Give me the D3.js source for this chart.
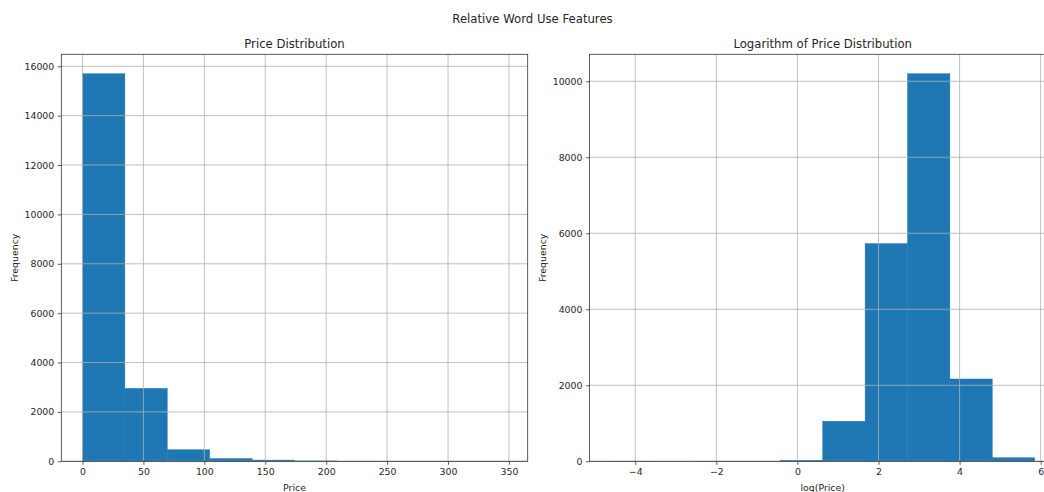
<!DOCTYPE html>
<html>
<head>
<meta charset="utf-8">
<script src="https://cdn.jsdelivr.net/npm/d3@7"></script>
<style>
  html, body { margin: 0; padding: 0; background: #fff; }
  svg { display: block; font-family: "DejaVu Sans", sans-serif; }
</style>
</head>
<body>
<svg id="chart" width="1044" height="492"></svg>
<script>
// Histogram of raw prices: 10 equal-width bins between the min and max price
const priceRange = [0, 348];
const priceCounts = [15700, 2955, 470, 115, 50, 15, 5, 2, 1, 1];
const priceTicks = [0, 50, 100, 150, 200, 250, 300, 350];
const priceYTicks = [0, 2000, 4000, 6000, 8000, 10000, 12000, 14000, 16000];

// Histogram of log(price): 10 equal-width bins between log(min) and log(max)
const logPriceRange = [-4.605, 5.852];
const logPriceCounts = [1, 0, 1, 3, 28, 1055, 5730, 10200, 2166, 95];
const logPriceTicks = [-4, -2, 0, 2, 4, 6];
const logPriceYTicks = [0, 2000, 4000, 6000, 8000, 10000];

const svg = d3.select("#chart");
const textColor = "#262626";
const barColor = "#1f77b4";
const gridColor = "#b0b0b0";

svg.append("text")
  .attr("x", 532.5).attr("y", 23)
  .attr("text-anchor", "middle")
  .attr("font-size", 11.7)
  .attr("fill", textColor)
  .text("Relative Word Use Features");

function binsFrom(range, counts) {
  const w = (range[1] - range[0]) / counts.length;
  return counts.map((c, i) => ({ x0: range[0] + i * w, x1: range[0] + (i + 1) * w, count: c }));
}

function drawHist(opt) {
  const { left, right, top, bottom } = opt.box;
  const bins = binsFrom(opt.range, opt.counts);
  const span = opt.range[1] - opt.range[0];
  const x = d3.scaleLinear()
    .domain([opt.range[0] - 0.05 * span, opt.range[1] + 0.05 * span])
    .range([left, right]);
  const y = d3.scaleLinear()
    .domain([0, d3.max(opt.counts) * 1.05])
    .range([bottom, top]);

  const g = svg.append("g");

  // bars (a thin same-colour stroke hides seams between neighbouring bins)
  g.append("g").selectAll("rect").data(bins.filter(d => d.count > 0)).join("rect")
    .attr("x", d => x(d.x0))
    .attr("width", d => x(d.x1) - x(d.x0))
    .attr("y", d => y(d.count))
    .attr("height", d => y(0) - y(d.count))
    .attr("fill", barColor)
    .attr("stroke", barColor)
    .attr("stroke-width", 0.4);

  // grid lines sit on top of the bars
  const grid = g.append("g").attr("stroke", gridColor).attr("stroke-width", 0.8);
  grid.selectAll("line.vx").data(opt.xTicks).join("line")
    .attr("x1", d => x(d)).attr("x2", d => x(d))
    .attr("y1", top).attr("y2", bottom);
  grid.selectAll("line.hy").data(opt.yTicks).join("line")
    .attr("y1", d => y(d)).attr("y2", d => y(d))
    .attr("x1", left).attr("x2", right);

  // frame
  g.append("rect")
    .attr("x", left).attr("y", top)
    .attr("width", right - left).attr("height", bottom - top)
    .attr("fill", "none").attr("stroke", "#333").attr("stroke-width", 0.8);

  const fmt = d => (d < 0 ? "\u2212" + Math.abs(d) : String(d));

  const xAxis = g.append("g").attr("transform", `translate(0,${bottom})`)
    .call(d3.axisBottom(x).tickValues(opt.xTicks).tickFormat(fmt).tickSize(3.5).tickPadding(3.5));
  const yAxis = g.append("g").attr("transform", `translate(${left},0)`)
    .call(d3.axisLeft(y).tickValues(opt.yTicks).tickFormat(d3.format("d")).tickSize(3.5).tickPadding(3.5));
  [xAxis, yAxis].forEach(a => {
    a.select(".domain").remove();
    a.selectAll("line").attr("stroke", "#333").attr("stroke-width", 0.8);
    a.selectAll("text").attr("fill", textColor).attr("font-size", 9.4)
      .attr("font-family", "DejaVu Sans, sans-serif");
  });

  g.append("text")
    .attr("x", (left + right) / 2).attr("y", top - 6)
    .attr("text-anchor", "middle").attr("font-size", 11.7).attr("fill", textColor)
    .text(opt.title);
  g.append("text")
    .attr("x", (left + right) / 2).attr("y", bottom + 29.5)
    .attr("text-anchor", "middle").attr("font-size", 9.4).attr("fill", textColor)
    .text(opt.xLabel);
  g.append("text")
    .attr("transform", `translate(${opt.yLabelX},${(top + bottom) / 2}) rotate(-90)`)
    .attr("text-anchor", "middle").attr("font-size", 9.4).attr("fill", textColor)
    .text("Frequency");
}

drawHist({
  box: { left: 61.3, right: 527.7, top: 54.3, bottom: 461.3 },
  range: priceRange, counts: priceCounts,
  xTicks: priceTicks, yTicks: priceYTicks,
  title: "Price Distribution", xLabel: "Price", yLabelX: 18
});

drawHist({
  box: { left: 589.5, right: 1055.9, top: 54.3, bottom: 461.3 },
  range: logPriceRange, counts: logPriceCounts,
  xTicks: logPriceTicks, yTicks: logPriceYTicks,
  title: "Logarithm of Price Distribution", xLabel: "log(Price)", yLabelX: 546
});
</script>
</body>
</html>
